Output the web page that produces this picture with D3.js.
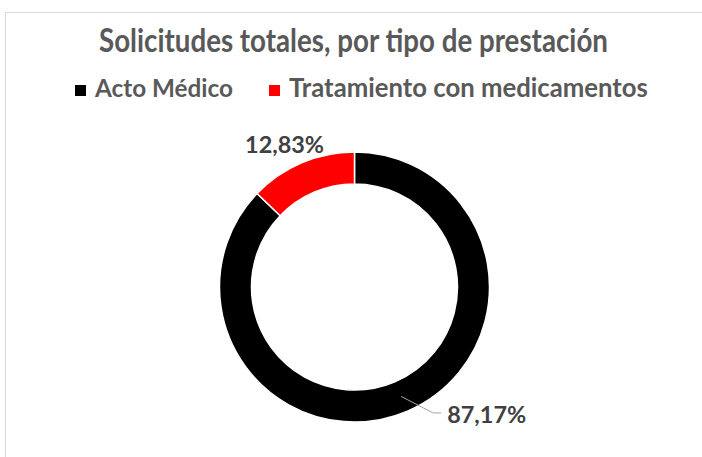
<!DOCTYPE html>
<html>
<head>
<meta charset="utf-8">
<script src="https://cdn.jsdelivr.net/npm/d3@7"></script>
<style>
body { margin: 0; background: #fff; }
text { font-family: Lato, 'Open Sans', sans-serif; font-weight: 700; }
.frame { fill: #fff; stroke: #d9d9d9; stroke-width: 1; }
.title, .legend-text { fill: #595959; }
.data-label { fill: #404040; }
.leader { fill: none; stroke: #a6a6a6; stroke-width: 1; }
</style>
</head>
<body>
<svg width="702" height="457"></svg>
<script>
//Chart data.
var title = 'Solicitudes totales, por tipo de prestación';
var categories = ['Acto Médico', 'Tratamiento con medicamentos'];
var values = [87.17, 12.83];
var valueLabels = ['87,17%', '12,83%'];
var colors = ['#000000', '#ff0000'];

var svg = d3.select('svg'),
	width = +svg.attr('width'), height = +svg.attr('height');

//Chart border, as in the spreadsheet export (runs off the right and bottom edge).
svg.append('rect')
	.attr('class', 'frame')
	.attr('x', 5.5)
	.attr('y', 12.5)
	.attr('width', width + 20)
	.attr('height', height + 20);

//Scale a text's font size so it spans a given width.
function fitWidth(sel, target) {
	var fs = parseFloat(sel.style('font-size'));
	var w = sel.node().getComputedTextLength();
	sel.style('font-size', (fs * target / w) + 'px');
}

//Title. The original face is taller for its width, so stretch it a little vertically.
var titleText = svg.append('g')
	.attr('transform', 'translate(353.5,52) scale(1,1.2)')
	.append('text')
	.attr('class', 'title')
	.attr('text-anchor', 'middle')
	.style('font-size', '24px')
	.text(title);
fitWidth(titleText, 509);

//Legend.
var legend = svg.append('g').attr('class', 'legend');
var legendWidths = [138, 359], legendX = 75, sq = 11;
categories.forEach(function(c, i) {
	var item = legend.append('g').attr('transform', 'translate(' + legendX + ',0)');
	item.append('rect')
		.attr('x', 0)
		.attr('y', 85)
		.attr('width', sq)
		.attr('height', sq)
		.style('fill', colors[i]);
	var t = item.append('text')
		.attr('class', 'legend-text')
		.attr('x', 20)
		.attr('y', 97)
		.style('font-size', '20px')
		.text(c);
	fitWidth(t, legendWidths[i]);
	legendX += 20 + legendWidths[i] + 36;
});

//Donut.
var cx = 354.5, cy = 287, rOuter = 135, rInner = 103;
var inner = svg.append('g')
	.attr('transform', 'translate(' + cx + ',' + cy + ')');

var pie = d3.pie().sort(null).value(function(d) { return d; });
var arcs = pie(values);
var arc = d3.arc().innerRadius(rInner).outerRadius(rOuter);

inner.selectAll('path.slice')
	.data(arcs)
	.enter().append('path')
	.attr('class', 'slice')
	.attr('d', arc)
	.style('fill', function(d, i) { return colors[i]; })
	.style('stroke', '#fff')
	.style('stroke-width', 1.5);

//Data labels.
//Large slice: leader line from the ring's centroid out to the label.
var c0 = arc.centroid(arcs[0]);
var elbow = [c0[0] + 32, c0[1] + 16.5];
inner.append('polyline')
	.attr('class', 'leader')
	.attr('points', [c0, elbow, [elbow[0] + 8, elbow[1]]].map(function(p) { return p.join(','); }).join(' '));
var lbl0 = inner.append('text')
	.attr('class', 'data-label')
	.attr('x', elbow[0] + 14)
	.attr('y', elbow[1] + 10)
	.style('font-size', '23px')
	.text(valueLabels[0]);
fitWidth(lbl0, 79);

//Small slice: label just outside the outer edge.
var outerArc = d3.arc().innerRadius(rOuter).outerRadius(rOuter);
var c1 = outerArc.centroid(arcs[1]);
var lbl1 = inner.append('text')
	.attr('class', 'data-label')
	.attr('x', c1[0] - 17)
	.attr('y', c1[1] - 10.3)
	.attr('text-anchor', 'middle')
	.style('font-size', '23px')
	.text(valueLabels[1]);
fitWidth(lbl1, 79);
</script>
</body>
</html>
